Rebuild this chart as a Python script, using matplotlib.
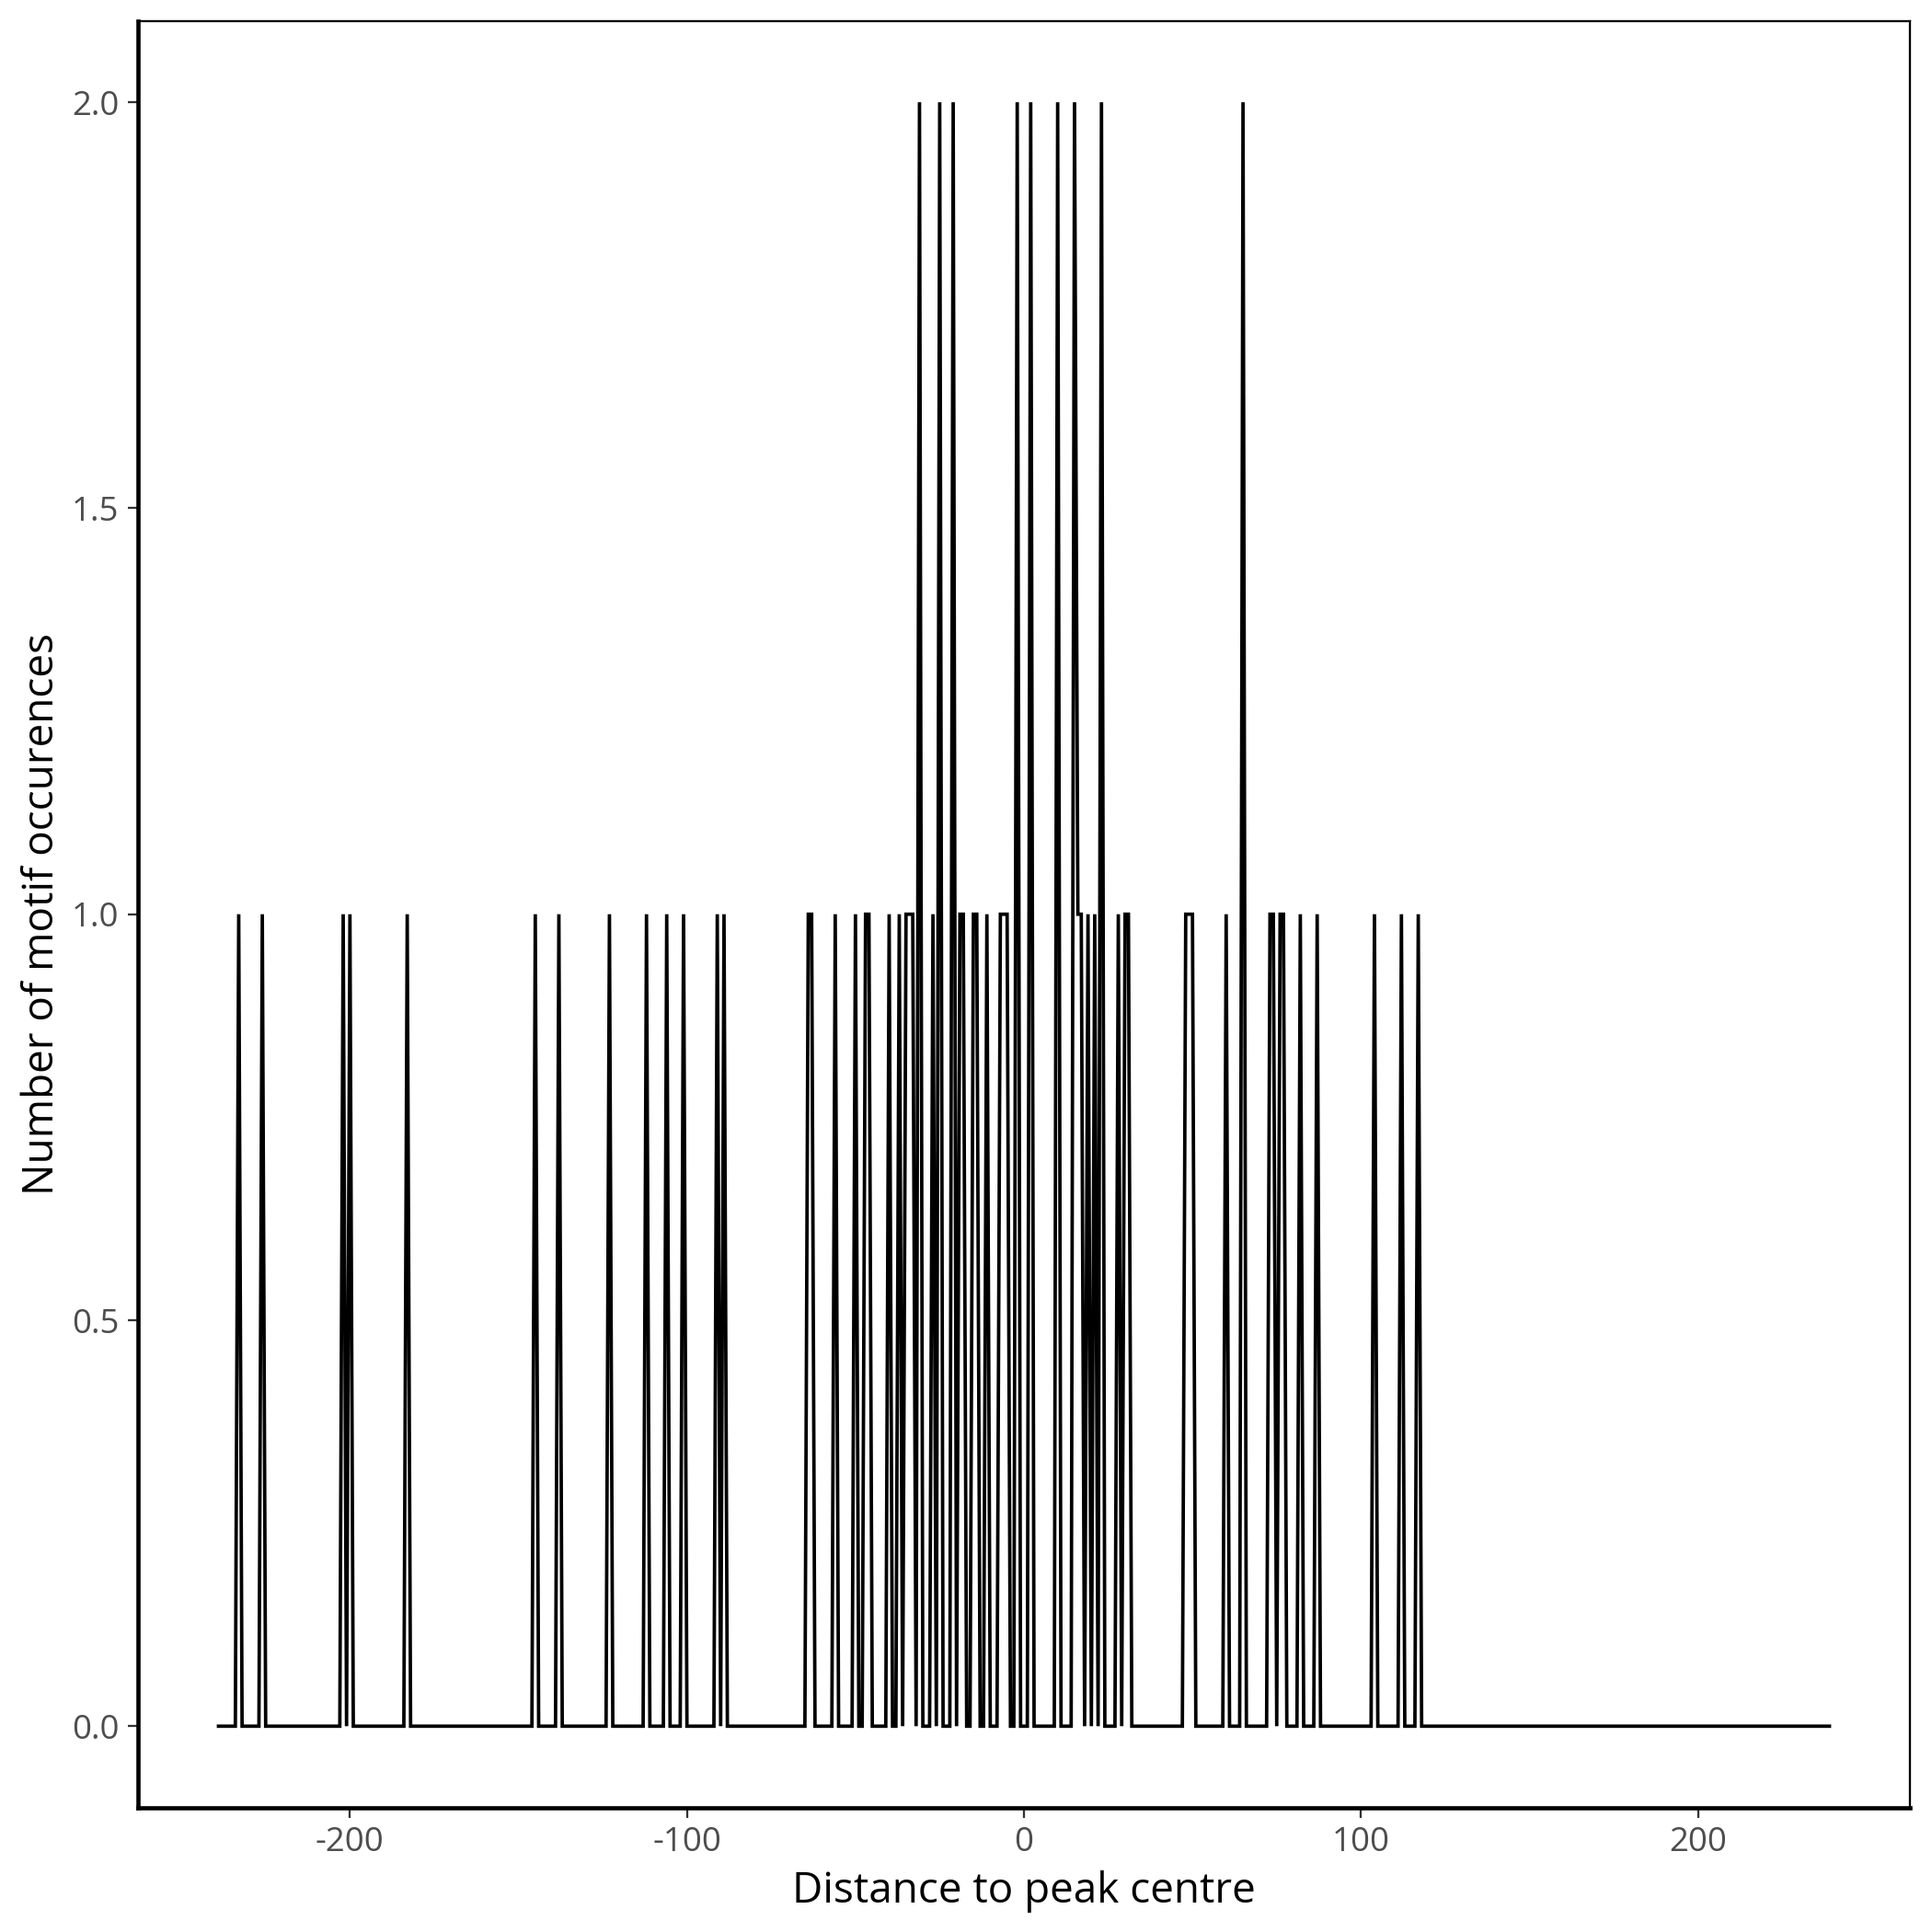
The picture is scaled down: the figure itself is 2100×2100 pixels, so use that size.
import numpy as np
import matplotlib
matplotlib.use("Agg")
import matplotlib.pyplot as plt

plt.rcParams['font.family'] = ['Open Sans', 'DejaVu Sans']
plt.rcParams['axes.unicode_minus'] = False

# distance range covered by the profile
x_start = -239
x_end = 239

# positions with one motif occurrence
one_hits = [-233, -226, -202, -200, -183, -145, -138, -123, -112, -106, -101,
            -91, -89, -64, -63, -56, -50, -47, -46, -40, -37, -35, -34, -33,
            -27, -19, -18, -15, -14, -11, -7, -6, -5, 16, 17, 19, 21, 28, 30,
            31, 48, 49, 50, 60, 73, 74, 76, 77, 82, 87, 104, 112, 117]
# positions with two motif occurrences
two_hits = [-31, -25, -21, -2, 2, 10, 15, 23, 65]

xticks = [-200, -100, 0, 100, 200]
yticks = [0.0, 0.5, 1.0, 1.5, 2.0]

distance = np.arange(x_start, x_end + 1)
counts = np.zeros(len(distance))
for p in one_hits:
    counts[distance == p] = 1
for p in two_hits:
    counts[distance == p] = 2

fig = plt.figure(figsize=(7, 7), dpi=300)
ax = fig.add_axes([0.0714, 0.0645, 0.9172, 0.9246])

ax.plot(distance, counts, color='black', lw=0.9, solid_joinstyle='miter')

span = x_end - x_start
ax.set_xlim(x_start - 0.05 * span, x_end + 0.05 * span)
ax.set_ylim(-0.1, 2.1)

ax.set_xticks(xticks)
ax.set_xticklabels([str(t) for t in xticks])
ax.set_yticks(yticks)
ax.set_yticklabels(['%.1f' % t for t in yticks])
ax.tick_params(axis='both', labelsize=8.8, labelcolor='#4D4D4D', color='#333333',
               length=2.75, width=0.55, pad=2.2)

for side in ['top', 'right']:
    ax.spines[side].set_linewidth(0.55)
for side in ['left', 'bottom']:
    ax.spines[side].set_linewidth(1.1)

ax.set_xlabel('Distance to peak centre', fontsize=11, labelpad=2.8)
ax.set_ylabel('Number of motif occurences', fontsize=11, labelpad=2.2)

fig.savefig('out.png', dpi=300)
